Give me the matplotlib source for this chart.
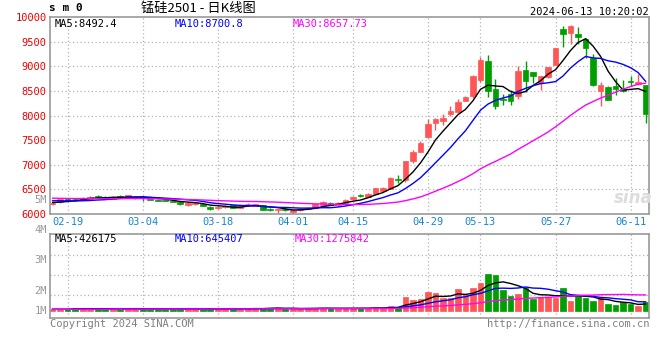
import numpy as np
import pandas as pd
import matplotlib
matplotlib.use('Agg')
import matplotlib.pyplot as plt

plt.rcParams['font.family'] = ['DejaVu Sans Mono', 'Noto Sans CJK SC']

dates = ['02-07', '02-08', '02-19', '02-20', '02-21', '02-22', '02-23', '02-26', '02-27', '02-28',
         '02-29', '03-01', '03-04', '03-05', '03-06', '03-07', '03-08', '03-11', '03-12', '03-13',
         '03-14', '03-15', '03-18', '03-19', '03-20', '03-21', '03-22', '03-25', '03-26', '03-27',
         '03-28', '03-29', '04-01', '04-02', '04-03', '04-08', '04-09', '04-10', '04-11', '04-12',
         '04-15', '04-16', '04-17', '04-18', '04-19', '04-22', '04-23', '04-24', '04-25', '04-26',
         '04-29', '04-30', '05-06', '05-07', '05-08', '05-09', '05-10', '05-13', '05-14', '05-15',
         '05-16', '05-17', '05-20', '05-21', '05-22', '05-23', '05-24', '05-27', '05-28', '05-29',
         '05-30', '05-31', '06-03', '06-04', '06-05', '06-06', '06-07', '06-11', '06-12', '06-13']

opens = [6195, 6245, 6300, 6302, 6280, 6300, 6358, 6350, 6300, 6375,
         6334, 6322, 6355, 6295, 6290, 6288, 6262, 6245, 6185, 6198,
         6200, 6150, 6117, 6140, 6178, 6130, 6195, 6165, 6180, 6105,
         6075, 6105, 6045, 6080, 6109, 6130, 6185, 6232, 6178, 6225,
         6305, 6372, 6348, 6416, 6457, 6512, 6705, 6697, 7066, 7257,
         7564, 7851, 7892, 8030, 8077, 8302, 8399, 8727, 9116, 8542,
         8343, 8440, 8399, 8932, 8876, 8659, 8782, 9034, 9752, 9684,
         9655, 9547, 9171, 8507, 8569, 8604, 8542, 8696, 8638, 8610]
highs = [6240, 6310, 6315, 6320, 6345, 6365, 6385, 6360, 6358, 6385,
         6395, 6365, 6365, 6310, 6300, 6295, 6275, 6255, 6235, 6240,
         6210, 6160, 6160, 6175, 6185, 6175, 6225, 6205, 6190, 6112,
         6100, 6112, 6080, 6110, 6140, 6210, 6258, 6240, 6245, 6300,
         6375, 6400, 6425, 6530, 6545, 6745, 6790, 7075, 7300, 7490,
         7930, 7940, 8040, 8185, 8330, 8390, 8820, 9180, 9220, 8750,
         8440, 8510, 9000, 9100, 8880, 8810, 8990, 9370, 9820, 9830,
         9790, 9580, 9250, 8680, 8590, 8760, 8720, 8795, 8850, 8610]
lows = [6180, 6220, 6280, 6285, 6275, 6295, 6335, 6300, 6295, 6325,
        6325, 6310, 6265, 6275, 6260, 6255, 6235, 6190, 6170, 6185,
        6155, 6090, 6100, 6130, 6120, 6120, 6170, 6155, 6080, 6070,
        6025, 6068, 6010, 6065, 6100, 6125, 6180, 6175, 6170, 6210,
        6290, 6345, 6340, 6410, 6440, 6505, 6620, 6650, 7040, 7250,
        7550, 7700, 7810, 8000, 8060, 8290, 8360, 8690, 8370, 8130,
        8210, 8220, 8340, 8470, 8660, 8510, 8760, 9020, 9390, 9450,
        9450, 9170, 8600, 8200, 8317, 8420, 8480, 8590, 8620, 7840]
closes = [6225, 6300, 6292, 6295, 6335, 6355, 6350, 6308, 6350, 6334,
          6383, 6355, 6320, 6288, 6268, 6265, 6250, 6200, 6225, 6215,
          6165, 6096, 6143, 6160, 6130, 6164, 6200, 6195, 6085, 6076,
          6095, 6075, 6075, 6100, 6129, 6199, 6250, 6185, 6232, 6281,
          6350, 6366, 6416, 6519, 6527, 6724, 6690, 7066, 7257, 7441,
          7830, 7921, 7958, 8091, 8282, 8372, 8794, 9122, 8507, 8200,
          8316, 8302, 8911, 8706, 8809, 8794, 8979, 9362, 9649, 9819,
          9602, 9362, 8610, 8610, 8317, 8536, 8507, 8686, 8679, 8030]
volumes = [128000, 131000, 126000, 235000, 232000, 148000, 150000, 130000, 127000, 146000,
           236000, 129000, 234000, 131000, 128000, 133000, 149000, 236000, 130000, 127000,
           132000, 233000, 129000, 236000, 131000, 128000, 234000, 238000, 233000, 235000,
           237000, 130000, 236000, 128000, 234000, 237000, 239000, 235000, 130000, 236000,
           238000, 234000, 237000, 240000, 236000, 435000, 348000, 1217000, 930000, 1017000,
           1626000, 1539000, 1130000, 1130000, 1913000, 1417000, 2000000, 2435000, 3191000, 3104000,
           1852000, 1304000, 1478000, 2000000, 983000, 1217000, 1217000, 1130000, 2000000, 843000,
           1278000, 1070000, 843000, 1070000, 609000, 496000, 722000, 548000, 409000, 783000]

# sessions before the window, they only feed the moving averages
pre_closes = [6380, 6360, 6340, 6350, 6370, 6390, 6360, 6330, 6320, 6340,
              6350, 6330, 6360, 6380, 6350, 6340, 6330, 6320, 6310, 6330,
              6300, 6320, 6310, 6290, 6300, 6250, 6240, 6220, 6230]
pre_volumes = [130000, 125000, 140000, 135000, 120000, 130000, 128000, 136000, 132000, 126000,
               130000, 134000, 128000, 125000, 131000, 129000, 133000, 127000, 130000, 126000,
               128000, 132000, 130000, 127000, 129000, 131000, 126000, 128000, 130000]

tick_dates = ['02-19', '03-04', '03-18', '04-01', '04-15', '04-29', '05-13', '05-27', '06-11']
price_ticks = [6000, 6500, 7000, 7500, 8000, 8500, 9000, 9500, 10000]
vol_grid = [1350000, 3090000, 4830000]
price_ma_text = ['MA5:8492.4', 'MA10:8700.8', 'MA30:8657.73']
vol_ma_text = ['MA5:426175', 'MA10:645407', 'MA30:1275842']
ma_periods = [5, 10, 30]
ma_colors = ['black', '#0000ff', '#ff00ff']

RED = '#ff5555'
GREEN = '#009f00'
GRID = '#b4b4b4'
FRAME = '#999999'
LABEL = '#999999'

W, H = 660, 360
fig = plt.figure(figsize=(W / 100, H / 100), dpi=100)


def box(l, t, r, b):
    return [l / W, 1 - b / H, (r - l) / W, (b - t) / H]


def ftext(px, py, s, **kw):
    fig.text(px / W, 1 - py / H, s, va='center', **kw)


ax = fig.add_axes(box(50, 17, 649, 214))
axv = fig.add_axes(box(50, 234, 649, 318))

x = np.arange(len(dates))
o, h, l, c = (np.array(a, float) for a in (opens, highs, lows, closes))
colors = np.where(c >= o, RED, GREEN)
n_pre = len(pre_closes)
all_close = pd.Series(pre_closes + closes, dtype=float)
all_vol = pd.Series(pre_volumes + volumes, dtype=float)

# candles
ax.vlines(x, l, h, colors=colors, lw=1, zorder=2)
ax.bar(x, np.maximum(np.abs(c - o), 12), bottom=np.minimum(o, c), width=0.76,
       color=colors, edgecolor=colors, lw=0.5, zorder=2)
for n, col in zip(ma_periods, ma_colors):
    ax.plot(x, all_close.rolling(n).mean().to_numpy()[n_pre:], color=col, lw=1, zorder=3)

# volume
axv.bar(x, volumes, width=0.76, color=colors, edgecolor=colors, lw=0.5, zorder=2)
for n, col in zip(ma_periods, ma_colors):
    axv.plot(x, all_vol.rolling(n).mean().to_numpy()[n_pre:], color=col, lw=1, zorder=3)

tick_pos = [dates.index(d) for d in tick_dates]
dot = (0, (1, 2))
for a in (ax, axv):
    a.set_xlim(-0.35, len(dates) - 0.55)
    for p in tick_pos:
        a.axvline(p, color=GRID, ls=dot, lw=0.9, zorder=1)
    for s in a.spines.values():
        s.set_color(FRAME)
        s.set_linewidth(1.2)
for v in price_ticks[1:-1]:
    ax.axhline(v, color=GRID, ls=dot, lw=0.9, zorder=1)
for v in vol_grid:
    axv.axhline(v, color=GRID, ls=dot, lw=0.9, zorder=1)

ax.set_ylim(price_ticks[0], price_ticks[-1])
ax.set_yticks(price_ticks)
ax.set_yticklabels([str(t) for t in price_ticks], color='#ee0000', fontsize=7.5)
ax.set_xticks(tick_pos)
ax.set_xticklabels(tick_dates, color='#1a86cf', fontsize=7.5)
ax.tick_params(length=0, pad=2.5)

axv.set_ylim(-626000, 6678000)
axv.set_xticks([])
axv.set_yticks([])

# volume scale labels as drawn by the source page
for lab, py in [('5M', 200), ('4M', 230), ('3M', 260), ('2M', 291), ('1M', 311)]:
    ftext(47, py, lab, ha='right', color=LABEL, fontsize=7.5)

# header
ftext(49, 8, 's m 0', ha='left', fontsize=8, fontweight='bold')
ftext(198, 8, '锰硅2501 - 日K线图', ha='center', fontsize=9.5,
      family=['Noto Sans CJK SC', 'DejaVu Sans'])
ftext(649, 12, '2024-06-13 10:20:02', ha='right', fontsize=7.5)

for s, px, col in zip(price_ma_text, [55, 175, 293], ma_colors):
    ftext(px, 24, s, ha='left', color=col, fontsize=7.5)
for s, px, col in zip(vol_ma_text, [55, 175, 295], ma_colors):
    ftext(px, 239, s, ha='left', color=col, fontsize=7.5)

ftext(50, 324, 'Copyright 2024 SINA.COM', ha='left', color='#808080', fontsize=7.5)
ftext(649, 324, 'http://finance.sina.com.cn', ha='right', color='#808080', fontsize=7.5)
ftext(633, 198, 'sina', ha='center', color='#dcdcdc', fontsize=12, fontweight='bold',
      style='italic', family='DejaVu Sans')

fig.savefig('out.png', dpi=100, facecolor='white')
